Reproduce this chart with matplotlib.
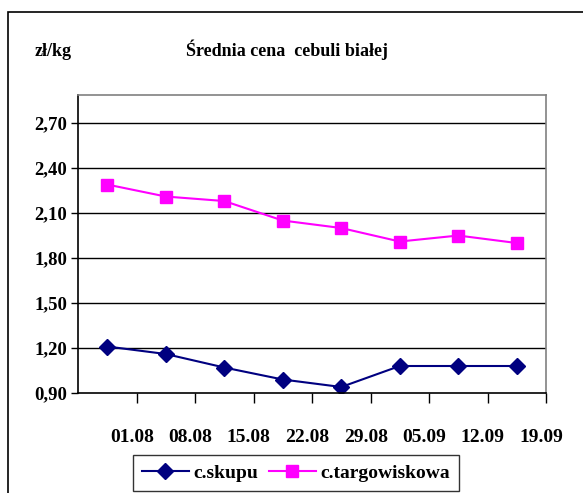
import matplotlib
matplotlib.use("Agg")
import matplotlib.pyplot as plt
from matplotlib.patches import Rectangle

dates = ["01.08", "08.08", "15.08", "22.08", "29.08", "05.09", "12.09", "19.09"]
skup = [1.21, 1.16, 1.07, 0.99, 0.94, 1.08, 1.08, 1.08]
targ = [2.29, 2.21, 2.18, 2.05, 2.00, 1.91, 1.95, 1.90]
yticks = [0.90, 1.20, 1.50, 1.80, 2.10, 2.40, 2.70]
ytick_labels = ["0,90", "1,20", "1,50", "1,80", "2,10", "2,40", "2,70"]

plt.rcParams['font.family'] = ['Liberation Serif', 'DejaVu Serif']
plt.rcParams['font.weight'] = 'bold'

W, H = 583, 493
fig = plt.figure(figsize=(W / 100, H / 100), dpi=100)
fig.patch.set_facecolor('white')

# outer chart border
fig.add_artist(Rectangle((8 / W, -0.1), 1.2, (H - 12) / H + 0.1, transform=fig.transFigure,
                         fill=False, edgecolor='black', linewidth=1.2))

x0, x1, ytop, ybot = 78, 546, 95, 393
ax = fig.add_axes([x0 / W, 1 - ybot / H, (x1 - x0) / W, (ybot - ytop) / H])

xs = list(range(len(dates)))
l1, = ax.plot(xs, skup, color='#000080', marker='D', markersize=8, linewidth=1.5, label='c.skupu')
l2, = ax.plot(xs, targ, color='#FF00FF', marker='s', markersize=9, linewidth=1.5, label='c.targowiskowa')

ax.set_xlim(-0.5, len(dates) - 0.5)
ax.set_ylim(0.90, 2.887)
ax.set_yticks(yticks)
ax.set_yticklabels(ytick_labels, fontsize=13.5, fontweight='bold')
for y in yticks[1:]:
    ax.axhline(y, color='black', linewidth=1.0, zorder=0)

ax.set_xticks([i + 0.5 for i in xs])
ax.set_xticklabels([])
ax.tick_params(axis='x', direction='out', length=7, width=1, color='black')
ax.tick_params(axis='y', direction='out', length=5, width=1, color='black', pad=3)
for i, d in enumerate(dates):
    ax.text(i + 0.42, -0.15, d, transform=ax.get_xaxis_transform(), ha='center', va='center',
            fontsize=14, fontweight='bold')

ax.spines['left'].set_color('black')
ax.spines['bottom'].set_color('black')
ax.spines['top'].set_color('#808080')
ax.spines['right'].set_color('#808080')
for s in ax.spines.values():
    s.set_linewidth(1.2)

fig.text(287 / W, 1 - 50 / H, "Średnia cena  cebuli białej", ha='center', va='center',
         fontsize=13, fontweight='bold')
fig.text(53 / W, 1 - 51 / H, "zł/kg", ha='center', va='center', fontsize=13, fontweight='bold')

leg = fig.legend(handles=[l1, l2], loc='center', bbox_to_anchor=(296 / W, 1 - 473 / H),
                 ncol=2, frameon=True, fancybox=False, edgecolor='black',
                 prop={'family': 'Liberation Serif', 'weight': 'bold', 'size': 14},
                 handlelength=2.4, handletextpad=0.25, columnspacing=0.55, borderpad=0.45)
leg.get_frame().set_linewidth(1.0)

fig.savefig('out.png', dpi=100)
